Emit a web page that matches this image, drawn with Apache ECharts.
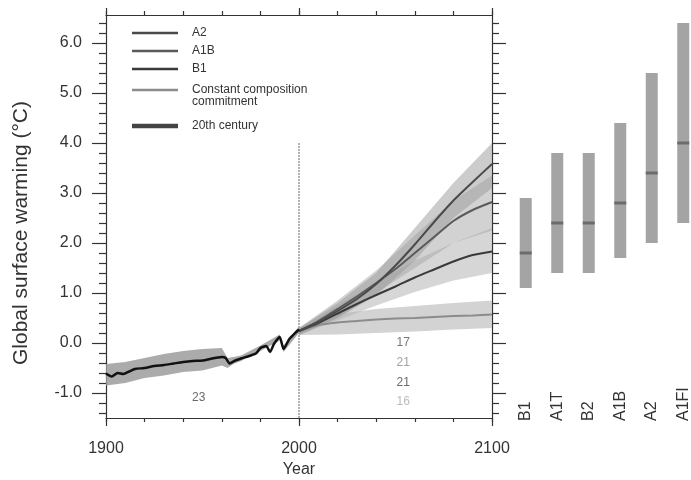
<!DOCTYPE html>
<html>
<head>
<meta charset="utf-8">
<script src="https://cdn.jsdelivr.net/npm/echarts@6/dist/echarts.min.js"></script>
<style>html,body{margin:0;padding:0;background:#fff}#c{width:691px;height:480px}</style>
</head>
<body>
<div id="c"></div>
<script>
// ---------- data ----------
const histYears = [1900,1903,1906,1909,1912,1915,1920,1925,1930,1935,1940,1945,1950,1955,1958,1960,1962,1964,1967,1970,1975,1978,1980,1983,1985,1987,1990,1992,1995,1998,2000];
const histMean  = [-0.61,-0.67,-0.6,-0.62,-0.57,-0.52,-0.5,-0.46,-0.44,-0.41,-0.38,-0.36,-0.35,-0.31,-0.29,-0.28,-0.3,-0.41,-0.35,-0.31,-0.25,-0.2,-0.1,-0.06,-0.18,-0.02,0.12,-0.12,0.08,0.2,0.27];
const histBandYears = [1900,1910,1920,1930,1940,1950,1960,1963,1966,1970,1980,1990,1992,2000];
const histUpper = [-0.42,-0.38,-0.3,-0.22,-0.16,-0.12,-0.1,-0.3,-0.28,-0.25,-0.05,0.17,-0.05,0.33];
const histLower = [-0.85,-0.8,-0.7,-0.65,-0.58,-0.55,-0.45,-0.5,-0.42,-0.36,-0.16,0.05,-0.18,0.2];

const projYears = [2000,2010,2020,2030,2040,2050,2060,2070,2080,2090,2100];
const a2Mean   = [0.24,0.42,0.64,0.88,1.18,1.55,1.97,2.42,2.85,3.22,3.58];
const a1bMean  = [0.24,0.44,0.68,0.93,1.2,1.48,1.8,2.12,2.44,2.66,2.82];
const b1Mean   = [0.24,0.4,0.59,0.78,0.96,1.13,1.31,1.47,1.63,1.76,1.83];
const ccMean   = [0.24,0.36,0.41,0.44,0.47,0.49,0.5,0.52,0.54,0.55,0.57];

const bandYears = [2000,2020,2040,2060,2080,2100];
const a2Upper  = [0.3,0.8,1.4,2.3,3.2,4.0];
const a2Lower  = [0.16,0.5,0.95,1.65,2.5,3.1];
const a1bUpper = [0.3,0.85,1.45,2.15,2.85,3.35];
const a1bLower = [0.16,0.5,1.0,1.5,2.0,2.25];
const b1Upper  = [0.3,0.75,1.2,1.65,2.0,2.3];
const b1Lower  = [0.16,0.45,0.75,1.02,1.25,1.4];
const ccUpper  = [0.3,0.58,0.68,0.74,0.8,0.85];
const ccLower  = [0.16,0.17,0.2,0.23,0.27,0.3];

const dividerYear = 2000, dividerTop = 4.0, dividerBottom = -1.5;

const countTexts  = ['23','17','21','21','16'];
const countYears  = [1948,2054,2054,2054,2054];
const countValues = [-1.09,0.0,-0.4,-0.79,-1.17];

const barLabels = ['B1','A1T','B2','A1B','A2','A1FI'];
const barLow  = [1.1,1.4,1.4,1.7,2.0,2.4];
const barHigh = [2.9,3.8,3.8,4.4,5.4,6.4];
const barBest = [1.8,2.4,2.4,2.8,3.4,4.0];

const xLabelValues = [1900,2000,2100];
const yMajorTicks = [-1,0,1,2,3,4,5,6];
const yMinorTicks = [-1.4,-1.2,-0.8,-0.6,-0.4,-0.2,0.2,0.4,0.6,0.8,1.2,1.4,1.6,1.8,2.2,2.4,2.6,2.8,3.2,3.4,3.6,3.8,4.2,4.4,4.6,4.8,5.2,5.4,5.6,5.8,6.2,6.4];
const yMin = -1.5, yMax = 6.56;

// ---------- helpers ----------
const FONT = 'Liberation Sans, Arial, Helvetica, sans-serif';
const AX = '#333';
const zip = (xs, ys) => xs.map((x, i) => [x, ys[i]]);

function bandSeries(name, xs, lo, up, fill, opacity, z) {
  return {
    type: 'custom', name: name, xAxisIndex: 0, yAxisIndex: 0, z: z, silent: true,
    data: xs.map((x, i) => [x, lo[i], up[i]]),
    encode: { x: 0, y: [1, 2] },
    renderItem: function (params, api) {
      if (params.dataIndex !== 0) return;
      const pts = [];
      for (let i = 0; i < xs.length; i++) pts.push(api.coord([xs[i], up[i]]));
      for (let i = xs.length - 1; i >= 0; i--) pts.push(api.coord([xs[i], lo[i]]));
      return { type: 'polygon', shape: { points: pts }, style: { fill: fill, opacity: opacity } };
    }
  };
}
function lineSeries(name, xs, ys, color, width, z) {
  return { type: 'line', name: name, xAxisIndex: 0, yAxisIndex: 0, data: zip(xs, ys),
    symbol: 'none', showSymbol: false, smooth: 0.2, z: z,
    lineStyle: { color: color, width: width }, itemStyle: { color: color } };
}
function xAx(pos, interval, len, showLine, labels) {
  return {
    type: 'value', gridIndex: 0, position: pos, min: 1900, max: 2100, interval: interval,
    axisLine: { show: showLine, onZero: false, lineStyle: { color: AX, width: 1.2 } },
    axisTick: { show: true, inside: false, length: len, lineStyle: { color: AX, width: 1.2 } },
    axisLabel: labels ? { show: true, customValues: xLabelValues, formatter: v => String(v), margin: 23, fontSize: 16, color: AX, fontFamily: FONT } : { show: false },
    splitLine: { show: false }
  };
}
function yAx(pos, ticks, len, showLine, labels) {
  return {
    type: 'value', gridIndex: 0, position: pos, min: yMin, max: yMax,
    axisLine: { show: showLine, onZero: false, lineStyle: { color: AX, width: 1.2 } },
    axisTick: { show: true, inside: false, length: len, customValues: ticks, lineStyle: { color: AX, width: 1.2 } },
    axisLabel: labels ? { show: true, customValues: ticks, formatter: v => v.toFixed(1), margin: 24, fontSize: 16, color: AX, fontFamily: FONT } : { show: false },
    splitLine: { show: false }
  };
}

const chart = echarts.init(document.getElementById('c'), null, { renderer: 'canvas' });
const xA = [
  xAx('bottom', 20, 4, true, true),
  xAx('bottom', 100, 8, false, false),
  xAx('top', 20, 4, true, false),
  xAx('top', 100, 7, false, false),
  { type: 'category', gridIndex: 1, position: 'bottom', data: barLabels,
    axisLine: { show: false, onZero: false }, axisTick: { show: false }, splitLine: { show: false },
    axisLabel: { interval: 0, rotate: 90, align: 'left', verticalAlign: 'middle', margin: 3, fontSize: 16, color: AX, fontFamily: FONT } }
];
xA[0].name = 'Year';
xA[0].nameLocation = 'middle';
xA[0].nameGap = 44;
xA[0].nameTextStyle = { fontSize: 16, color: AX, fontFamily: FONT };

const yA = [
  yAx('left', yMajorTicks, 14, true, true),
  yAx('left', yMinorTicks, 7, false, false),
  yAx('right', yMajorTicks, 14, true, false),
  yAx('right', yMinorTicks, 7, false, false),
  { type: 'value', gridIndex: 1, min: yMin, max: yMax, show: false }
];

const legendText = { fontSize: 12, color: AX, fontFamily: FONT, padding: [0, 0, 0, 9], lineHeight: 14 };

chart.setOption({
  animation: false,
  backgroundColor: '#fff',
  grid: [
    { left: 106, top: 15, width: 386, height: 403, containLabel: false, outerBoundsMode: 'none' },
    { left: 510, top: 15, width: 189, height: 403, containLabel: false, outerBoundsMode: 'none' }
  ],
  xAxis: xA,
  yAxis: yA,
  legend: [
    { left: 127, top: 21, orient: 'vertical', icon: 'rect', itemWidth: 46, itemHeight: 2.5, itemGap: 4, selectedMode: false,
      data: ['A2', 'A1B', 'B1'], textStyle: legendText },
    { left: 127, top: 67, orient: 'vertical', icon: 'rect', itemWidth: 46, itemHeight: 2.5, selectedMode: false,
      data: ['Constant composition commitment'],
      formatter: () => '\nConstant composition\ncommitment',
      textStyle: { fontSize: 12, color: AX, fontFamily: FONT, padding: [0, 0, 0, 9], lineHeight: 12 } },
    { left: 127, top: 114, orient: 'vertical', icon: 'rect', itemWidth: 46, itemHeight: 4.5, selectedMode: false,
      data: ['20th century'], itemStyle: { color: '#444' }, textStyle: legendText }
  ],
  graphic: [{
    type: 'text', x: 21, y: 233, rotation: Math.PI / 2,
    style: { text: 'Global surface warming (°C)', font: '21px ' + FONT, fill: AX, align: 'center', verticalAlign: 'middle' }
  }],
  series: [
    bandSeries('hb', histBandYears, histLower, histUpper, '#9c9c9c', 0.85, 1),
    bandSeries('ccb', bandYears, ccLower, ccUpper, '#c4c4c4', 0.75, 1),
    bandSeries('b1b', bandYears, b1Lower, b1Upper, '#b4b4b4', 0.55, 1),
    bandSeries('a1bb', bandYears, a1bLower, a1bUpper, '#a6a6a6', 0.5, 1),
    bandSeries('a2b', bandYears, a2Lower, a2Upper, '#9a9a9a', 0.5, 1),
    { type: 'line', name: 'divider', xAxisIndex: 0, yAxisIndex: 0, symbol: 'none', silent: true, z: 2,
      data: [[dividerYear, dividerTop], [dividerYear, dividerBottom]],
      lineStyle: { color: '#999', width: 1.5, type: [2, 1] } },
    lineSeries('Constant composition commitment', projYears, ccMean, '#8c8c8c', 2, 3),
    lineSeries('B1', projYears, b1Mean, '#3a3a3a', 2, 3),
    lineSeries('A1B', projYears, a1bMean, '#5a5a5a', 2, 3),
    lineSeries('A2', projYears, a2Mean, '#4a4a4a', 2, 3),
    lineSeries('20th century', histYears, histMean, '#111', 2.5, 4),
    { type: 'scatter', name: 'counts', xAxisIndex: 0, yAxisIndex: 0, symbolSize: 0, silent: true, z: 5,
      data: countTexts.map((t, i) => ({ value: [countYears[i], countValues[i]], name: t })),
      label: { show: true, position: 'inside', formatter: p => p.name, fontSize: 12, fontFamily: FONT, color: '#444' }
    },
    { type: 'custom', name: 'ranges', xAxisIndex: 4, yAxisIndex: 4, z: 3, silent: true,
      data: barLabels.map((n, i) => [i, barLow[i], barHigh[i], barBest[i]]),
      encode: { x: 0, y: [1, 2] },
      renderItem: function (params, api) {
        const lo = api.coord([api.value(0), api.value(1)]);
        const hi = api.coord([api.value(0), api.value(2)]);
        const be = api.coord([api.value(0), api.value(3)]);
        const w = 12;
        return { type: 'group', children: [
          { type: 'rect', shape: { x: lo[0] - w / 2, y: hi[1], width: w, height: lo[1] - hi[1] }, style: { fill: '#a4a4a4' } },
          { type: 'rect', shape: { x: lo[0] - w / 2, y: be[1] - 1.5, width: w, height: 3 }, style: { fill: '#6c6c6c' } }
        ] };
      }
    }
  ]
});
// per-label colours for the model counts
const countColors = ['#444', '#555', '#8a8a8a', '#444', '#aaa'];
chart.setOption({ series: [{}, {}, {}, {}, {}, {}, {}, {}, {}, {}, {}, {
  data: countTexts.map((t, i) => ({ value: [countYears[i], countValues[i]], name: t, label: { color: countColors[i] } }))
}] });
</script>
</body>
</html>
